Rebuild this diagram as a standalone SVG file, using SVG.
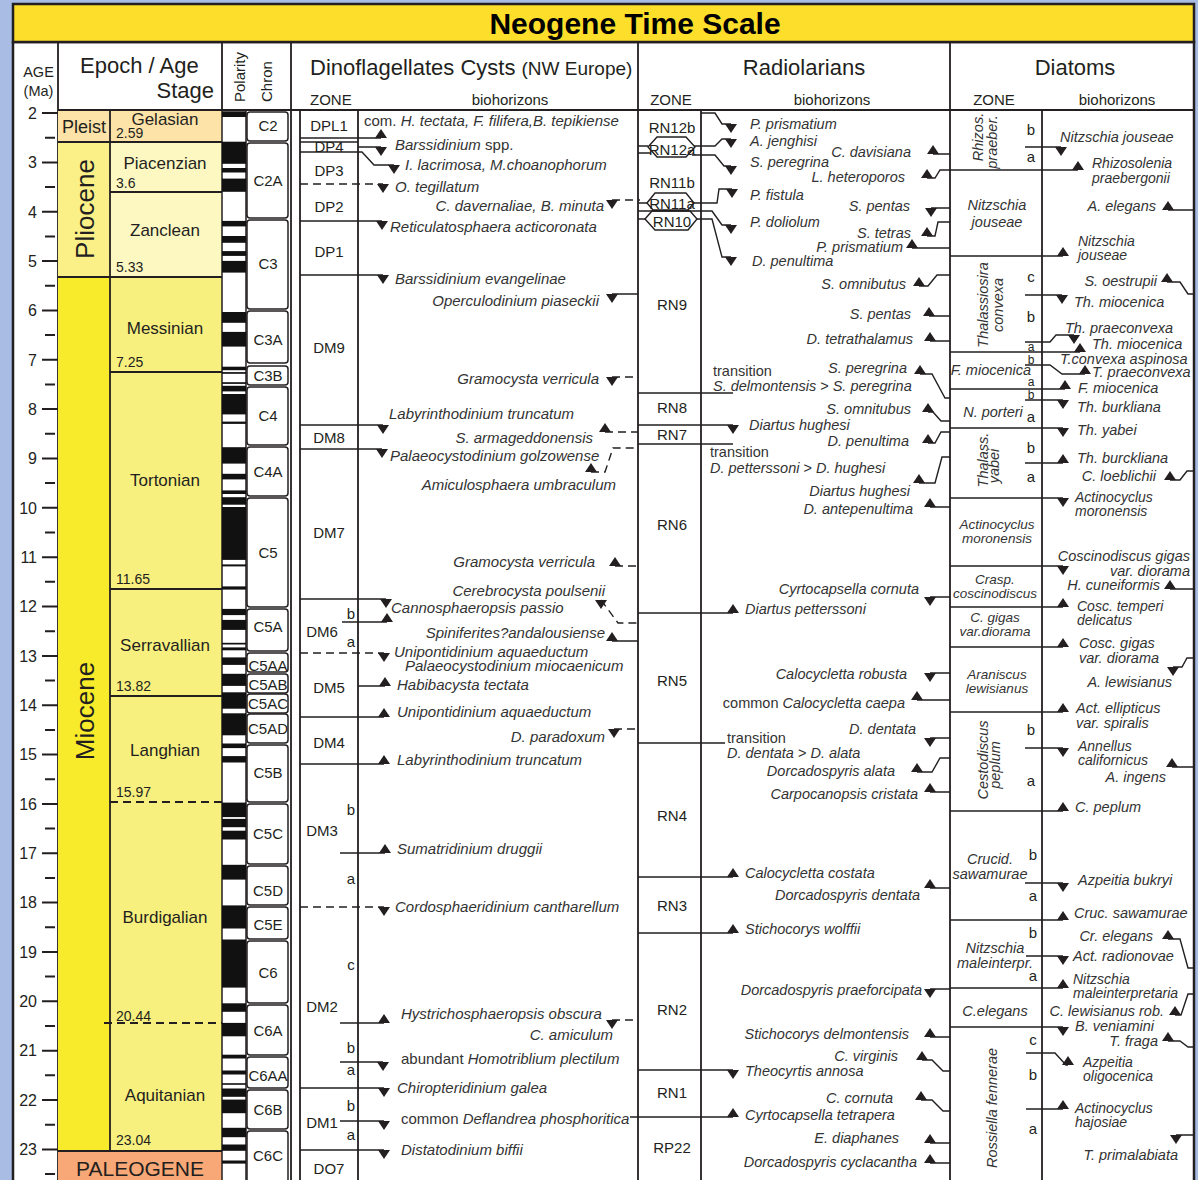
<svg xmlns="http://www.w3.org/2000/svg" xmlns:xlink="http://www.w3.org/1999/xlink" width="1198" height="1180" viewBox="0 0 1198 1180">
<style>
text{font-family:"Liberation Sans",Arial,Helvetica,sans-serif;fill:#231f20}
.ttl{font-size:30px;font-weight:bold;text-anchor:middle;fill:#000}
.hd{font-size:22px}
.sh{font-size:15px}
.m{text-anchor:middle}
.e{text-anchor:end}
.age{font-size:16px;text-anchor:end}
.stg{font-size:17px;text-anchor:middle}
.num{font-size:14px}
.chr{font-size:15px;text-anchor:middle}
.zn{font-size:15px;text-anchor:middle}
.bd{font-size:15px;font-style:italic;fill:#333}
.br{font-size:14.5px;font-style:italic;fill:#333}
.b2{font-size:14px;font-style:italic;fill:#333}
.bz{font-size:14.5px;font-style:italic;fill:#333;text-anchor:middle}
.bt{font-size:13.5px;font-style:italic;fill:#333;text-anchor:middle}
.n{font-style:normal}
.lt{font-size:15px;text-anchor:middle}
.ls{font-size:12px;text-anchor:middle}
.k{stroke:#231f20;stroke-width:1.4;fill:none}
.z{stroke:#231f20;stroke-width:1.8;fill:none}
.d{stroke-dasharray:8 5}
.tri{fill:#231f20}
.chb{fill:#fff;stroke:#231f20;stroke-width:1.5}
</style>
<defs>
<polygon id="tu" points="-6,0 6,0 0,-9"/>
<polygon id="td" points="-6,0 6,0 0,9"/>
</defs>

<!-- page background and frame -->
<rect x="0" y="0" width="1198" height="1180" fill="#a9bde4"/>
<rect x="13" y="42" width="1181" height="1145" fill="#fff" stroke="#231f20" stroke-width="2.5"/>
<g id="title">
<rect x="13" y="4" width="1181" height="38" fill="#fcde2b" stroke="#231f20" stroke-width="2.5"/>
<text class="ttl" x="635" y="34">Neogene Time Scale</text>
</g>

<!-- header -->
<g id="header">
<path class="z" d="M58 42V1180M222 42V1180M291 42V1180M638 42V1180M950 42V1180M58 110H1194"/>
<text class="m" x="38.5" y="77" style="font-size:14.5px">AGE</text>
<text class="m" x="38.5" y="96" style="font-size:14.5px">(Ma)</text>
<text class="hd" x="80" y="73">Epoch / Age</text>
<text class="hd e" x="214" y="98">Stage</text>
<text class="sh" transform="translate(245,102) rotate(-90)">Polarity</text>
<text class="sh" transform="translate(272,102) rotate(-90)">Chron</text>
<text class="hd" x="310" y="75">Dinoflagellates Cysts <tspan style="font-size:19px">(NW Europe)</tspan></text>
<text class="sh" x="310" y="105">ZONE</text>
<text class="sh m" x="510" y="105">biohorizons</text>
<text class="hd m" x="804" y="75">Radiolarians</text>
<text class="sh m" x="671" y="105">ZONE</text>
<text class="sh m" x="832" y="105">biohorizons</text>
<text class="hd m" x="1075" y="75">Diatoms</text>
<text class="sh m" x="994" y="105">ZONE</text>
<text class="sh m" x="1117" y="105">biohorizons</text>
</g>

<!-- age axis -->
<g id="age-axis">
<path stroke="#231f20" stroke-width="2" d="M42 113H58M42 162.4H58M42 211.7H58M42 261.1H58M42 310.4H58M42 359.8H58M42 409.1H58M42 458.5H58M42 507.8H58M42 557.2H58M42 606.5H58M42 655.9H58M42 705.2H58M42 754.6H58M42 803.9H58M42 853.3H58M42 902.6H58M42 952H58M42 1001.3H58M42 1050.7H58M42 1100H58M42 1149.4H58"/>
<path stroke="#231f20" stroke-width="2" d="M45 137.7H55M45 187H55M45 236.4H55M45 285.7H55M45 335.1H55M45 384.4H55M45 433.8H55M45 483.1H55M45 532.5H55M45 581.8H55M45 631.2H55M45 680.5H55M45 729.9H55M45 779.2H55M45 828.6H55M45 877.9H55M45 927.3H55M45 976.6H55M45 1026H55M45 1075.3H55M45 1124.7H55M45 1174H55"/>
<text class="age" x="37" y="119">2</text>
<text class="age" x="37" y="168">3</text>
<text class="age" x="37" y="218">4</text>
<text class="age" x="37" y="267">5</text>
<text class="age" x="37" y="316">6</text>
<text class="age" x="37" y="366">7</text>
<text class="age" x="37" y="415">8</text>
<text class="age" x="37" y="464">9</text>
<text class="age" x="37" y="514">10</text>
<text class="age" x="37" y="563">11</text>
<text class="age" x="37" y="612">12</text>
<text class="age" x="37" y="662">13</text>
<text class="age" x="37" y="711">14</text>
<text class="age" x="37" y="760">15</text>
<text class="age" x="37" y="810">16</text>
<text class="age" x="37" y="859">17</text>
<text class="age" x="37" y="908">18</text>
<text class="age" x="37" y="958">19</text>
<text class="age" x="37" y="1007">20</text>
<text class="age" x="37" y="1056">21</text>
<text class="age" x="37" y="1106">22</text>
<text class="age" x="37" y="1155">23</text>
</g>

<!-- epochs and stages -->
<g id="epochs">
<rect x="58" y="111" width="164" height="31" fill="#fde3a8"/>
<rect x="58" y="142" width="52" height="135" fill="#fbef88"/>
<rect x="110" y="142" width="112" height="135" fill="#fdf8c2"/>
<rect x="58" y="277" width="52" height="874" fill="#f8eb2b"/>
<rect x="110" y="277" width="112" height="874" fill="#f8f07e"/>
<rect x="58" y="1151" width="164" height="35" fill="#f8a877"/>
<path class="z" d="M110 111V1151M58 142H222M110 192H222M58 277H222M110 372H222M110 589H222M110 696H222M58 1151H222"/>
<path class="z d" d="M110 802H222M104 1023H222"/>
<text x="84" y="133" class="m" style="font-size:18px">Pleist</text>
<text x="84" y="209" class="m" style="font-size:26px" transform="rotate(-90 84 209) translate(0 10)">Pliocene</text>
<text x="84" y="711" class="m" style="font-size:26px" transform="rotate(-90 84 711) translate(0 10)">Miocene</text>
<text class="stg" x="165" y="125">Gelasian</text>
<text class="num" x="116" y="138">2.59</text>
<text class="stg" x="165" y="169">Piacenzian</text>
<text class="num" x="116" y="188">3.6</text>
<text class="stg" x="165" y="236">Zanclean</text>
<text class="num" x="116" y="272">5.33</text>
<text class="stg" x="165" y="334">Messinian</text>
<text class="num" x="116" y="367">7.25</text>
<text class="stg" x="165" y="486">Tortonian</text>
<text class="num" x="116" y="584">11.65</text>
<text class="stg" x="165" y="651">Serravallian</text>
<text class="num" x="116" y="691">13.82</text>
<text class="stg" x="165" y="756">Langhian</text>
<text class="num" x="116" y="797">15.97</text>
<text class="stg" x="165" y="923">Burdigalian</text>
<text class="num" x="116" y="1021">20.44</text>
<text class="stg" x="165" y="1101">Aquitanian</text>
<text class="num" x="116" y="1145">23.04</text>
<text class="m" x="140" y="1176" style="font-size:21px">PALEOGENE</text>
</g>

<!-- magnetic polarity: black = normal -->
<g id="polarity">
<rect x="222" y="111" width="24" height="1075" fill="#fff" stroke="#231f20" stroke-width="1.5"/>
<g fill="#111">
<rect x="222" y="112" width="24" height="5"/>
<rect x="222" y="141.7" width="24" height="22.1"/>
<rect x="222" y="168" width="24" height="4.5"/>
<rect x="222" y="178.6" width="24" height="13.2"/>
<rect x="222" y="220.9" width="24" height="5.5"/>
<rect x="222" y="236" width="24" height="6.8"/>
<rect x="222" y="251.1" width="24" height="4.8"/>
<rect x="222" y="260.9" width="24" height="11.7"/>
<rect x="222" y="312" width="24" height="10.8"/>
<rect x="222" y="331.9" width="24" height="14.7"/>
<rect x="222" y="366.7" width="24" height="3.5"/>
<rect x="222" y="372.1" width="24" height="1.7"/>
<rect x="222" y="382.2" width="24" height="1.7"/>
<rect x="222" y="385.8" width="24" height="5.6"/>
<rect x="222" y="394" width="24" height="20.4"/>
<rect x="222" y="421.6" width="24" height="2.3"/>
<rect x="222" y="447.2" width="24" height="16.4"/>
<rect x="222" y="473.8" width="24" height="5.6"/>
<rect x="222" y="490.4" width="24" height="3.6"/>
<rect x="222" y="497.2" width="24" height="7.5"/>
<rect x="222" y="507" width="24" height="52.9"/>
<rect x="222" y="564.4" width="24" height="2"/>
<rect x="222" y="586.4" width="24" height="3.2"/>
<rect x="222" y="608.9" width="24" height="6.2"/>
<rect x="222" y="619.9" width="24" height="10"/>
<rect x="222" y="642.8" width="24" height="1.7"/>
<rect x="222" y="647.4" width="24" height="2.9"/>
<rect x="222" y="657.4" width="24" height="7.5"/>
<rect x="222" y="673.8" width="24" height="12.1"/>
<rect x="222" y="692.3" width="24" height="16.4"/>
<rect x="222" y="713.3" width="24" height="22"/>
<rect x="222" y="743.5" width="24" height="4.6"/>
<rect x="222" y="756.1" width="24" height="6.4"/>
<rect x="222" y="802.6" width="24" height="14.5"/>
<rect x="222" y="818.9" width="24" height="8.3"/>
<rect x="222" y="830.7" width="24" height="8.8"/>
<rect x="222" y="864.8" width="24" height="14.8"/>
<rect x="222" y="905.4" width="24" height="23.1"/>
<rect x="222" y="939.5" width="24" height="48.1"/>
<rect x="222" y="1003.3" width="24" height="8.5"/>
<rect x="222" y="1022.9" width="24" height="13.4"/>
<rect x="222" y="1054.7" width="24" height="3.8"/>
<rect x="222" y="1070.5" width="24" height="4"/>
<rect x="222" y="1083.2" width="24" height="1.6"/>
<rect x="222" y="1088.5" width="24" height="8.3"/>
<rect x="222" y="1099.6" width="24" height="13.6"/>
<rect x="222" y="1127.8" width="24" height="9.4"/>
<rect x="222" y="1144.5" width="24" height="6.3"/>
<rect x="222" y="1160.5" width="24" height="3.1"/>
</g>
</g>

<!-- chrons -->
<g id="chrons">
<rect class="chb" x="247" y="112" width="41" height="29" rx="3"/><text class="chr" x="268" y="131">C2</text>
<rect class="chb" x="247" y="143" width="41" height="75" rx="3"/><text class="chr" x="268" y="186">C2A</text>
<rect class="chb" x="247" y="220" width="41" height="89" rx="3"/><text class="chr" x="268" y="269">C3</text>
<rect class="chb" x="247" y="311" width="41" height="52" rx="3"/><text class="chr" x="268" y="345">C3A</text>
<rect class="chb" x="247" y="366" width="41" height="19" rx="3"/><text class="chr" x="268" y="381">C3B</text>
<rect class="chb" x="247" y="387" width="41" height="58" rx="3"/><text class="chr" x="268" y="421">C4</text>
<rect class="chb" x="247" y="447" width="41" height="49" rx="3"/><text class="chr" x="268" y="477">C4A</text>
<rect class="chb" x="247" y="498" width="41" height="109" rx="3"/><text class="chr" x="268" y="558">C5</text>
<rect class="chb" x="247" y="609" width="41" height="42" rx="3"/><text class="chr" x="268" y="632">C5A</text>
<rect class="chb" x="247" y="653" width="41" height="19" rx="3"/><text class="chr" x="268" y="671">C5AA</text>
<rect class="chb" x="247" y="674" width="41" height="19" rx="3"/><text class="chr" x="268" y="690">C5AB</text>
<rect class="chb" x="247" y="694" width="41" height="19" rx="3"/><text class="chr" x="268" y="709">C5AC</text>
<rect class="chb" x="247" y="714" width="41" height="29" rx="3"/><text class="chr" x="268" y="734">C5AD</text>
<rect class="chb" x="247" y="745" width="41" height="57" rx="3"/><text class="chr" x="268" y="778">C5B</text>
<rect class="chb" x="247" y="804" width="41" height="60" rx="3"/><text class="chr" x="268" y="839">C5C</text>
<rect class="chb" x="247" y="866" width="41" height="39" rx="3"/><text class="chr" x="268" y="896">C5D</text>
<rect class="chb" x="247" y="907" width="41" height="32" rx="3"/><text class="chr" x="268" y="930">C5E</text>
<rect class="chb" x="247" y="941" width="41" height="62" rx="3"/><text class="chr" x="268" y="978">C6</text>
<rect class="chb" x="247" y="1005" width="41" height="50" rx="3"/><text class="chr" x="268" y="1036">C6A</text>
<rect class="chb" x="247" y="1057" width="41" height="31" rx="3"/><text class="chr" x="268" y="1081">C6AA</text>
<rect class="chb" x="247" y="1090" width="41" height="39" rx="3"/><text class="chr" x="268" y="1115">C6B</text>
<rect class="chb" x="247" y="1131" width="41" height="60" rx="3"/><text class="chr" x="268" y="1161">C6C</text>
</g>

<!-- dinoflagellate cysts -->
<g id="dino">
<path class="z" d="M300 111V1180M358 111V1180"/>
<path class="k" d="M300 138H381M300 142H358M358 147H381M300 152H362L374 165H394M300 221H382M300 275H383M300 425H383M300 449H382M300 599H386M342 622H387M358 686H385M300 717H384M300 764H384M340 853H385M340 1023H384M340 1062H383M300 1088H384M340 1121H384M300 1150H384M612 294H638M612 641H638"/>
<path class="k d" d="M300 184H383M300 653H384M300 907H384M612 200H640M612 377H638M605 432H638M591 472H605L613 448H638M615 566H638M601 600L618 623H638M614 729H638M612 1020H638"/>
<g class="tri">
<use href="#tu" x="381" y="138"/><use href="#tu" x="387" y="622"/><use href="#tu" x="385" y="686"/><use href="#tu" x="384" y="717"/><use href="#tu" x="384" y="764"/><use href="#tu" x="385" y="853"/><use href="#tu" x="384" y="1023"/><use href="#tu" x="605" y="432"/><use href="#tu" x="591" y="472"/><use href="#tu" x="615" y="566"/><use href="#tu" x="612" y="641"/>
<use href="#td" x="381" y="147"/><use href="#td" x="394" y="165"/><use href="#td" x="383" y="184"/><use href="#td" x="382" y="221"/><use href="#td" x="383" y="275"/><use href="#td" x="383" y="425"/><use href="#td" x="382" y="449"/><use href="#td" x="386" y="599"/><use href="#td" x="384" y="653"/><use href="#td" x="384" y="907"/><use href="#td" x="383" y="1062"/><use href="#td" x="384" y="1088"/><use href="#td" x="384" y="1121"/><use href="#td" x="384" y="1150"/><use href="#td" x="612" y="200"/><use href="#td" x="612" y="294"/><use href="#td" x="612" y="377"/><use href="#td" x="601" y="600"/><use href="#td" x="614" y="729"/><use href="#td" x="612" y="1020"/>
</g>
<text class="zn" x="329" y="131">DPL1</text>
<text class="zn" x="329" y="152">DP4</text>
<text class="zn" x="329" y="176">DP3</text>
<text class="zn" x="329" y="212">DP2</text>
<text class="zn" x="329" y="257">DP1</text>
<text class="zn" x="329" y="353">DM9</text>
<text class="zn" x="329" y="443">DM8</text>
<text class="zn" x="329" y="538">DM7</text>
<text class="zn" x="322" y="637">DM6</text>
<text class="lt" x="351" y="619">b</text>
<text class="lt" x="351" y="647">a</text>
<text class="zn" x="329" y="693">DM5</text>
<text class="zn" x="329" y="748">DM4</text>
<text class="lt" x="351" y="815">b</text>
<text class="zn" x="322" y="836">DM3</text>
<text class="lt" x="351" y="884">a</text>
<text class="lt" x="351" y="970">c</text>
<text class="zn" x="322" y="1012">DM2</text>
<text class="lt" x="351" y="1053">b</text>
<text class="lt" x="351" y="1075">a</text>
<text class="lt" x="351" y="1111">b</text>
<text class="zn" x="322" y="1128">DM1</text>
<text class="lt" x="351" y="1140">a</text>
<text class="zn" x="329" y="1174">DO7</text>
<text class="bd" x="364" y="126"><tspan class="n">com. </tspan>H. tectata, F. filifera,B. tepikiense</text>
<text class="bd" x="395" y="150">Barssidinium<tspan class="n"> spp.</tspan></text>
<text class="bd" x="405" y="170">I. lacrimosa, M.choanophorum</text>
<text class="bd" x="395" y="192">O. tegillatum</text>
<text class="bd" x="390" y="232">Reticulatosphaera acticoronata</text>
<text class="bd" x="395" y="284">Barssidinium evangelinae</text>
<text class="bd" x="389" y="419">Labyrinthodinium truncatum</text>
<text class="bd" x="390" y="461">Palaeocystodinium golzowense</text>
<text class="bd" x="391" y="613">Cannosphaeropsis passio</text>
<text class="bd" x="394" y="657">Unipontidinium aquaeductum</text>
<text class="bd" x="405" y="671">Palaeocystodinium miocaenicum</text>
<text class="bd" x="397" y="690">Habibacysta tectata</text>
<text class="bd" x="397" y="717">Unipontidinium aquaeductum</text>
<text class="bd" x="397" y="765">Labyrinthodinium truncatum</text>
<text class="bd" x="397" y="854">Sumatridinium druggii</text>
<text class="bd" x="395" y="912">Cordosphaeridinium cantharellum</text>
<text class="bd" x="401" y="1019">Hystrichosphaeropsis obscura</text>
<text class="bd" x="401" y="1064"><tspan class="n">abundant </tspan>Homotriblium plectilum</text>
<text class="bd" x="397" y="1093">Chiropteridinium galea</text>
<text class="bd" x="401" y="1124"><tspan class="n">common </tspan>Deflandrea phosphoritica</text>
<text class="bd" x="401" y="1155">Distatodinium biffii</text>
<text class="bd e" x="604" y="211">C. davernaliae, B. minuta</text>
<text class="bd e" x="599" y="306">Operculodinium piaseckii</text>
<text class="bd e" x="599" y="384">Gramocysta verricula</text>
<text class="bd e" x="593" y="443">S. armageddonensis</text>
<text class="bd e" x="616" y="490">Amiculosphaera umbraculum</text>
<text class="bd e" x="595" y="567">Gramocysta verricula</text>
<text class="bd e" x="605" y="596">Cerebrocysta poulsenii</text>
<text class="bd e" x="605" y="638">Spiniferites?andalousiense</text>
<text class="bd e" x="605" y="742">D. paradoxum</text>
<text class="bd e" x="613" y="1040">C. amiculum</text>
</g>

<!-- radiolarians -->
<g id="radio">
<path class="z" d="M701 111V1180"/>
<path class="k" d="M638 393H733M638 425H733M638 444H733M638 613H733M638 743H725M638 877H733M638 933H733M638 1070H733M630 1117H733"/>
<path class="k" d="M648 147L657 137H686L695 147L686 157H657ZM647 203L655 193H686L694 203L688 210H653ZM645 219L652 211H690L697 219L688 230H655Z"/>
<path class="k" d="M638 146H648M638 153H651M701 113H715L722 124H731M694 146H715L722 139H731M692 155H715L724 166H731M638 203H647M694 203H717L719 189H732M638 211H712L722 225H731M638 219H645M697 219H712L722 257H731"/>
<path class="k" d="M933 154H950M927 178H935L940 170H950M931 208H950M927 236H935L938 222H950M912 248H950M919 286H928L937 275H950M929 316H950M930 341H950M920 374H932L945 398H950M928 412H933L941 421H950M928 443H935L941 432H950M919 483H935L942 457H950M930 507H950M930 597H950M930 673H950M917 700H950M930 738H950M917 772H932L940 758H950M930 792H950M930 888H950M930 989H950M930 1037H950M922 1060H932L943 1071H950M921 1100H932L943 1111H950M930 1143H950M930 1163H950"/>
<g class="tri">
<use href="#td" x="731" y="124"/><use href="#td" x="731" y="139"/><use href="#td" x="731" y="166"/><use href="#td" x="732" y="189"/><use href="#td" x="731" y="225"/><use href="#td" x="731" y="257"/><use href="#td" x="733" y="425"/><use href="#td" x="733" y="1070"/>
<use href="#tu" x="733" y="613"/><use href="#tu" x="733" y="877"/><use href="#tu" x="733" y="933"/><use href="#tu" x="733" y="1117"/>
<use href="#tu" x="933" y="154"/><use href="#tu" x="927" y="178"/><use href="#td" x="931" y="208"/><use href="#tu" x="927" y="236"/><use href="#tu" x="912" y="248"/><use href="#tu" x="919" y="286"/><use href="#tu" x="929" y="316"/><use href="#tu" x="930" y="341"/><use href="#tu" x="920" y="374"/><use href="#tu" x="928" y="412"/><use href="#tu" x="928" y="443"/><use href="#tu" x="919" y="483"/><use href="#tu" x="930" y="507"/><use href="#td" x="930" y="597"/><use href="#td" x="930" y="673"/><use href="#tu" x="917" y="700"/><use href="#td" x="930" y="738"/><use href="#tu" x="917" y="772"/><use href="#tu" x="930" y="792"/><use href="#tu" x="930" y="888"/><use href="#td" x="930" y="989"/><use href="#tu" x="930" y="1037"/><use href="#tu" x="922" y="1060"/><use href="#tu" x="921" y="1100"/><use href="#tu" x="930" y="1143"/><use href="#tu" x="930" y="1163"/>
</g>
<text class="zn" x="672" y="133">RN12b</text>
<text class="zn" x="672" y="155">RN12a</text>
<text class="zn" x="672" y="188">RN11b</text>
<text class="zn" x="672" y="209">RN11a</text>
<text class="zn" x="672" y="227">RN10</text>
<text class="zn" x="672" y="310">RN9</text>
<text class="zn" x="672" y="413">RN8</text>
<text class="zn" x="672" y="440">RN7</text>
<text class="zn" x="672" y="530">RN6</text>
<text class="zn" x="672" y="686">RN5</text>
<text class="zn" x="672" y="821">RN4</text>
<text class="zn" x="672" y="911">RN3</text>
<text class="zn" x="672" y="1015">RN2</text>
<text class="zn" x="672" y="1098">RN1</text>
<text class="zn" x="672" y="1153">RP22</text>
<text class="br" x="750" y="129">P. prismatium</text>
<text class="br" x="750" y="146">A. jenghisi</text>
<text class="br" x="750" y="167">S. peregrina</text>
<text class="br" x="750" y="200">P. fistula</text>
<text class="br" x="750" y="227">P. doliolum</text>
<text class="br" x="752" y="266">D. penultima</text>
<text class="br" x="749" y="430">Diartus hughesi</text>
<text class="br" x="745" y="614">Diartus petterssoni</text>
<text class="br" x="745" y="878">Calocycletta costata</text>
<text class="br" x="745" y="934">Stichocorys wolffii</text>
<text class="br" x="745" y="1076">Theocyrtis annosa</text>
<text class="br" x="745" y="1120">Cyrtocapsella tetrapera</text>
<text class="br n" x="713" y="376">transition</text>
<text class="br" x="713" y="391">S. delmontensis <tspan class="n">&gt;</tspan> S. peregrina</text>
<text class="br n" x="710" y="457">transition</text>
<text class="br" x="710" y="473">D. petterssoni <tspan class="n">&gt;</tspan> D. hughesi</text>
<text class="br n" x="727" y="743">transition</text>
<text class="br" x="727" y="758">D. dentata <tspan class="n">&gt;</tspan> D. alata</text>
<text class="br e" x="911" y="157">C. davisiana</text>
<text class="br e" x="905" y="182">L. heteroporos</text>
<text class="br e" x="910" y="211">S. pentas</text>
<text class="br e" x="911" y="238">S. tetras</text>
<text class="br e" x="903" y="252">P. prismatium</text>
<text class="br e" x="906" y="289">S. omnibutus</text>
<text class="br e" x="911" y="319">S. pentas</text>
<text class="br e" x="913" y="344">D. tetrathalamus</text>
<text class="br e" x="907" y="373">S. peregrina</text>
<text class="br e" x="911" y="414">S. omnitubus</text>
<text class="br e" x="909" y="446">D. penultima</text>
<text class="br e" x="910" y="496">Diartus hughesi</text>
<text class="br e" x="913" y="514">D. antepenultima</text>
<text class="br e" x="919" y="594">Cyrtocapsella cornuta</text>
<text class="br e" x="907" y="679">Calocycletta robusta</text>
<text class="br e" x="905" y="708"><tspan class="n">common </tspan>Calocycletta caepa</text>
<text class="br e" x="916" y="734">D. dentata</text>
<text class="br e" x="895" y="776">Dorcadospyris alata</text>
<text class="br e" x="918" y="799">Carpocanopsis cristata</text>
<text class="br e" x="920" y="900">Dorcadospyris dentata</text>
<text class="br e" x="922" y="995">Dorcadospyris praeforcipata</text>
<text class="br e" x="909" y="1039">Stichocorys delmontensis</text>
<text class="br e" x="898" y="1061">C. virginis</text>
<text class="br e" x="893" y="1103">C. cornuta</text>
<text class="br e" x="899" y="1143">E. diaphanes</text>
<text class="br e" x="917" y="1167">Dorcadospyris cyclacantha</text>
</g>

<!-- diatoms -->
<g id="diatoms">
<path class="z" d="M1042 111V1180"/>
<path class="k" d="M950 170H1078M950 256H1063M950 352H1080M950 389H1065M950 428H1063M950 498H1063M950 566H1063M950 607H1063M950 647H1063M950 712H1063M950 811H1063M950 920H1063M950 988H1063M950 1027H1063"/>
<path class="k" d="M1025 147H1061M1025 295H1062M1025 342H1050L1056 335H1074M1025 365H1050L1062 374H1085M1025 400H1063M1025 463H1063M1025 748H1063M1025 883H1063M1026 956H1063M1026 1053H1055L1066 1065H1068M1026 1109H1063"/>
<path class="k" d="M1168 210H1193M1167 282H1180L1188 294H1193M1170 480H1180L1187 471H1193M1170 589H1193M1173 667H1182L1187 658H1193M1172 767H1193M1168 939H1180L1188 968H1193M1175 1015H1181L1188 994H1193M1168 1041H1180L1188 1047H1193M1176 1135H1193"/>
<g class="tri">
<use href="#td" x="1061" y="147"/><use href="#td" x="1062" y="295"/><use href="#td" x="1074" y="335"/><use href="#td" x="1063" y="400"/><use href="#td" x="1063" y="428"/><use href="#td" x="1063" y="498"/><use href="#td" x="1063" y="566"/><use href="#td" x="1063" y="748"/><use href="#td" x="1063" y="883"/><use href="#td" x="1063" y="956"/><use href="#td" x="1063" y="1027"/><use href="#td" x="1173" y="667"/><use href="#td" x="1176" y="1135"/>
<use href="#tu" x="1078" y="170"/><use href="#tu" x="1063" y="256"/><use href="#tu" x="1080" y="352"/><use href="#tu" x="1085" y="374"/><use href="#tu" x="1065" y="389"/><use href="#tu" x="1063" y="463"/><use href="#tu" x="1063" y="607"/><use href="#tu" x="1063" y="647"/><use href="#tu" x="1063" y="712"/><use href="#tu" x="1063" y="811"/><use href="#tu" x="1063" y="920"/><use href="#tu" x="1063" y="988"/><use href="#tu" x="1068" y="1065"/><use href="#tu" x="1063" y="1109"/><use href="#tu" x="1168" y="210"/><use href="#tu" x="1167" y="282"/><use href="#tu" x="1170" y="480"/><use href="#tu" x="1170" y="589"/><use href="#tu" x="1172" y="767"/><use href="#tu" x="1168" y="939"/><use href="#tu" x="1175" y="1015"/><use href="#tu" x="1168" y="1041"/>
</g>
<!-- zone names -->
<text class="bz" transform="translate(983,137) rotate(-90)">Rhizos.</text>
<text class="bz" transform="translate(997,142) rotate(-90)">praeber.</text>
<text class="bz" x="997" y="210">Nitzschia</text>
<text class="bz" x="997" y="227">jouseae</text>
<text class="bz" transform="translate(988,305) rotate(-90)">Thalassiosira</text>
<text class="bz" transform="translate(1003,305) rotate(-90)">convexa</text>
<text class="bz" x="991" y="375">F. miocenica</text>
<text class="bz" x="993" y="417">N. porteri</text>
<text class="bz" transform="translate(988,460) rotate(-90)">Thalass.</text>
<text class="bz" transform="translate(999,466) rotate(-90)">yabei</text>
<text class="bt" x="997" y="529">Actinocyclus</text>
<text class="bt" x="997" y="543">moronensis</text>
<text class="bt" x="995" y="584">Crasp.</text>
<text class="bt" x="995" y="598">coscinodiscus</text>
<text class="bt" x="995" y="622">C. gigas</text>
<text class="bt" x="995" y="636">var.diorama</text>
<text class="bt" x="997" y="679">Araniscus</text>
<text class="bt" x="997" y="693">lewisianus</text>
<text class="bz" transform="translate(988,760) rotate(-90)">Cestodiscus</text>
<text class="bz" transform="translate(1000,765) rotate(-90)">peplum</text>
<text class="bz" x="990" y="864">Crucid.</text>
<text class="bz" x="990" y="879">sawamurae</text>
<text class="bz" x="995" y="953">Nitzschia</text>
<text class="bz" x="995" y="968">maleinterpr.</text>
<text class="bz" x="995" y="1016">C.elegans</text>
<text class="bz" transform="translate(997,1108) rotate(-90)">Rossiella fennerae</text>
<!-- subzone letters -->
<text class="lt" x="1031" y="135">b</text>
<text class="lt" x="1031" y="162">a</text>
<text class="lt" x="1031" y="282">c</text>
<text class="lt" x="1031" y="322">b</text>
<text class="ls" x="1031" y="351">a</text>
<text class="ls" x="1031" y="364">b</text>
<text class="ls" x="1031" y="386">a</text>
<text class="ls" x="1031" y="399">b</text>
<text class="lt" x="1031" y="422">a</text>
<text class="lt" x="1031" y="453">b</text>
<text class="lt" x="1031" y="482">a</text>
<text class="lt" x="1031" y="735">b</text>
<text class="lt" x="1031" y="786">a</text>
<text class="lt" x="1033" y="860">b</text>
<text class="lt" x="1033" y="901">a</text>
<text class="lt" x="1033" y="938">b</text>
<text class="lt" x="1033" y="981">a</text>
<text class="lt" x="1033" y="1045">c</text>
<text class="lt" x="1033" y="1080">b</text>
<text class="lt" x="1033" y="1134">a</text>
<!-- biohorizons -->
<text class="br" x="1060" y="142">Nitzschia jouseae</text>
<text class="b2" x="1092" y="168">Rhizosolenia</text>
<text class="b2" x="1092" y="183">praebergonii</text>
<text class="b2" x="1078" y="246">Nitzschia</text>
<text class="b2" x="1078" y="260">jouseae</text>
<text class="br" x="1074" y="307">Th. miocenica</text>
<text class="br" x="1065" y="333">Th. praeconvexa</text>
<text class="br" x="1092" y="349">Th. miocenica</text>
<text class="br" x="1060" y="364">T.convexa aspinosa</text>
<text class="br" x="1092" y="377">T. praeconvexa</text>
<text class="br" x="1078" y="393">F. miocenica</text>
<text class="br" x="1077" y="412">Th. burkliana</text>
<text class="br" x="1077" y="435">Th. yabei</text>
<text class="br" x="1077" y="463">Th. burckliana</text>
<text class="b2" x="1075" y="502">Actinocyclus</text>
<text class="b2" x="1075" y="516">moronensis</text>
<text class="br e" x="1190" y="561">Coscinodiscus gigas</text>
<text class="br e" x="1190" y="576">var. diorama</text>
<text class="b2" x="1077" y="611">Cosc. temperi</text>
<text class="b2" x="1077" y="625">delicatus</text>
<text class="br" x="1079" y="648">Cosc. gigas</text>
<text class="br" x="1079" y="663">var. diorama</text>
<text class="br" x="1076" y="713">Act. ellipticus</text>
<text class="br" x="1076" y="728">var. spiralis</text>
<text class="b2" x="1078" y="751">Annellus</text>
<text class="b2" x="1078" y="765">californicus</text>
<text class="br" x="1075" y="812">C. peplum</text>
<text class="br" x="1078" y="885">Azpeitia bukryi</text>
<text class="br" x="1074" y="918">Cruc. sawamurae</text>
<text class="br" x="1073" y="961">Act. radionovae</text>
<text class="b2" x="1073" y="984">Nitzschia</text>
<text class="b2" x="1073" y="998">maleinterpretaria</text>
<text class="br" x="1075" y="1031">B. veniamini</text>
<text class="b2" x="1083" y="1067">Azpeitia</text>
<text class="b2" x="1083" y="1081">oligocenica</text>
<text class="b2" x="1075" y="1113">Actinocyclus</text>
<text class="b2" x="1075" y="1127">hajosiae</text>
<text class="br e" x="1156" y="211">A. elegans</text>
<text class="br e" x="1157" y="286">S. oestrupii</text>
<text class="br e" x="1156" y="481">C. loeblichii</text>
<text class="br e" x="1160" y="590">H. cuneiformis</text>
<text class="br e" x="1172" y="687">A. lewisianus</text>
<text class="br e" x="1166" y="782">A. ingens</text>
<text class="br e" x="1153" y="941">Cr. elegans</text>
<text class="br e" x="1164" y="1016">C. lewisianus rob.</text>
<text class="br e" x="1158" y="1046">T. fraga</text>
<text class="br e" x="1178" y="1160">T. primalabiata</text>
</g>
</svg>
